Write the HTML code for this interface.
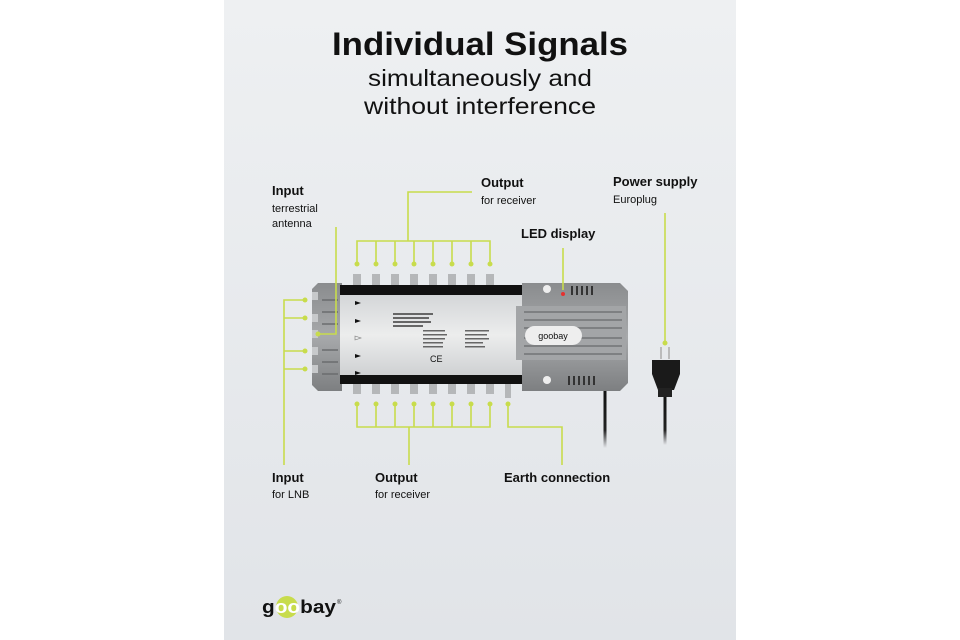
<!DOCTYPE html>
<html><head><meta charset="utf-8"><style>
html,body{margin:0;padding:0;background:#fff;width:960px;height:640px;overflow:hidden}
svg{display:block}
text{font-family:"Liberation Sans",sans-serif;fill:#111}
</style></head><body>
<svg width="960" height="640" viewBox="0 0 960 640" xmlns="http://www.w3.org/2000/svg">
<defs>
<linearGradient id="bg" x1="0" y1="0" x2="0" y2="1"><stop offset="0" stop-color="#eef0f2"/><stop offset="1" stop-color="#e1e4e8"/></linearGradient>
<linearGradient id="sil" x1="0" y1="0" x2="0" y2="1"><stop offset="0" stop-color="#d4d6d8"/><stop offset=".5" stop-color="#eceded"/><stop offset="1" stop-color="#cfd1d3"/></linearGradient>
<linearGradient id="gr" x1="0" y1="0" x2="0" y2="1"><stop offset="0" stop-color="#8a8c8e"/><stop offset=".5" stop-color="#a7a9ab"/><stop offset="1" stop-color="#7d7f81"/></linearGradient>
<linearGradient id="cab" x1="0" y1="0" x2="0" y2="1"><stop offset="0" stop-color="#111"/><stop offset=".7" stop-color="#222"/><stop offset="1" stop-color="#222" stop-opacity="0"/></linearGradient>
</defs>
<rect x="224" y="0" width="512" height="640" fill="url(#bg)"/>
<text x="480" y="55" text-anchor="middle" font-size="32" font-weight="bold" textLength="296" lengthAdjust="spacingAndGlyphs">Individual Signals</text>
<text x="480" y="86" text-anchor="middle" font-size="23" fill="#222" textLength="224" lengthAdjust="spacingAndGlyphs">simultaneously and</text>
<text x="480" y="114" text-anchor="middle" font-size="23" fill="#222" textLength="232" lengthAdjust="spacingAndGlyphs">without interference</text>

<g font-size="13" font-weight="bold">
<text x="272" y="195">Input</text><text x="481" y="187">Output</text><text x="613" y="186">Power supply</text>
<text x="521" y="238">LED display</text><text x="272" y="482">Input</text><text x="375" y="482">Output</text><text x="504" y="482">Earth connection</text>
</g>
<g font-size="11">
<text x="272" y="212">terrestrial</text><text x="272" y="227">antenna</text><text x="481" y="204">for receiver</text>
<text x="613" y="203">Europlug</text><text x="272" y="498">for LNB</text><text x="375" y="498">for receiver</text>
</g>

<!-- cables -->
<rect x="603.5" y="388" width="3" height="60" fill="url(#cab)"/>
<rect x="663.5" y="395" width="3" height="50" fill="url(#cab)"/>
<!-- plug -->
<rect x="660" y="347" width="2" height="12" fill="#bbb"/><rect x="668" y="347" width="2" height="12" fill="#bbb"/>
<path d="M652 360 h28 v14 l-6 16 h-16 l-6 -16z" fill="#1a1a1a"/>
<rect x="658" y="388" width="14" height="9" fill="#222"/>

<!-- device -->
<path d="M318 283 h24 v108 h-24 l-6 -6 v-96z" fill="url(#gr)"/>
<g fill="#c7c9cb">
<rect x="312" y="292" width="6" height="8"/><rect x="312" y="314" width="6" height="8"/><rect x="312" y="330" width="6" height="8"/><rect x="312" y="347" width="6" height="8"/><rect x="312" y="365" width="6" height="8"/>
</g>
<g stroke="#6a6c6e" stroke-width="1.5"><line x1="322" y1="300" x2="338" y2="300"/><line x1="322" y1="312" x2="338" y2="312"/><line x1="322" y1="324" x2="338" y2="324"/><line x1="322" y1="350" x2="338" y2="350"/><line x1="322" y1="362" x2="338" y2="362"/><line x1="322" y1="374" x2="338" y2="374"/></g>
<rect x="340" y="295" width="182" height="80" fill="url(#sil)"/>
<rect x="340" y="285" width="182" height="10" fill="#111"/>
<rect x="340" y="375" width="182" height="9" fill="#111"/>
<g fill="#111"><path d="M355 301 l6 2 l-6 2z"/><path d="M355 319 l6 2 l-6 2z"/><path d="M355 354 l6 2 l-6 2z"/><path d="M355 371 l6 2 l-6 2z"/></g>
<path d="M355 336 l6 2 l-6 2z" fill="none" stroke="#777" stroke-width=".6"/>
<g fill="#666"><rect x="393" y="313" width="40" height="2"/><rect x="393" y="317" width="36" height="2"/><rect x="393" y="321" width="38" height="2"/><rect x="393" y="325" width="30" height="2"/><rect x="423" y="330" width="22" height="1.5"/><rect x="423" y="334" width="24" height="1.5"/><rect x="423" y="338" width="22" height="1.5"/><rect x="423" y="342" width="20" height="1.5"/><rect x="423" y="346" width="20" height="1.5"/><rect x="465" y="330" width="24" height="1.5"/><rect x="465" y="334" width="22" height="1.5"/><rect x="465" y="338" width="24" height="1.5"/><rect x="465" y="342" width="18" height="1.5"/><rect x="465" y="346" width="20" height="1.5"/></g>
<text x="430" y="362" font-size="9" fill="#333">CE</text>
<g fill="#b5b7b9">
<rect x="353" y="274" width="8" height="11"/><rect x="372" y="274" width="8" height="11"/><rect x="391" y="274" width="8" height="11"/><rect x="410" y="274" width="8" height="11"/><rect x="429" y="274" width="8" height="11"/><rect x="448" y="274" width="8" height="11"/><rect x="467" y="274" width="8" height="11"/><rect x="486" y="274" width="8" height="11"/>
<rect x="353" y="384" width="8" height="10"/><rect x="372" y="384" width="8" height="10"/><rect x="391" y="384" width="8" height="10"/><rect x="410" y="384" width="8" height="10"/><rect x="429" y="384" width="8" height="10"/><rect x="448" y="384" width="8" height="10"/><rect x="467" y="384" width="8" height="10"/><rect x="486" y="384" width="8" height="10"/><rect x="505" y="384" width="6" height="14"/>
</g>
<!-- right housing -->
<path d="M522 283 h98 l8 8 v92 l-8 8 h-98z" fill="url(#gr)"/>
<path d="M516 306 h110 v54 h-110z" fill="#a3a5a7"/>
<g stroke="#7e8082" stroke-width="2"><line x1="524" y1="312" x2="622" y2="312"/><line x1="524" y1="320" x2="622" y2="320"/><line x1="524" y1="328" x2="622" y2="328"/><line x1="524" y1="338" x2="622" y2="338"/><line x1="524" y1="346" x2="622" y2="346"/><line x1="524" y1="354" x2="622" y2="354"/></g>
<rect x="525" y="326" width="57" height="19" rx="9.5" fill="#eee"/>
<text x="553" y="339" text-anchor="middle" font-size="9" fill="#555">goobay</text>
<circle cx="547" cy="289" r="4" fill="#eee"/><circle cx="547" cy="380" r="4" fill="#eee"/>
<g fill="#333"><rect x="571" y="286" width="2" height="9"/><rect x="576" y="286" width="2" height="9"/><rect x="581" y="286" width="2" height="9"/><rect x="586" y="286" width="2" height="9"/><rect x="591" y="286" width="2" height="9"/><rect x="568" y="376" width="2" height="9"/><rect x="573" y="376" width="2" height="9"/><rect x="578" y="376" width="2" height="9"/><rect x="583" y="376" width="2" height="9"/><rect x="588" y="376" width="2" height="9"/><rect x="593" y="376" width="2" height="9"/></g>
<circle cx="563" cy="294" r="2" fill="#e53030"/>

<!-- green connectors -->
<g stroke="#c8dc4c" stroke-width="1.6" fill="none">
<path d="M472 192 H408 V241"/><path d="M357 264 V241 H490 V264"/>
<path d="M376 241 V264 M395 241 V264 M414 241 V264 M433 241 V264 M452 241 V264 M471 241 V264"/>
<path d="M357 404 V427 H490 V404 M376 404 V427 M395 404 V427 M414 404 V427 M433 404 V427 M452 404 V427 M471 404 V427"/>
<path d="M409 427 V465"/>
<path d="M508 404 V427 H562 V465"/>
<path d="M284 465 V300 H305 M284 318 H305 M284 351 H305 M284 369 H305"/>
<path d="M336 227 V334 H318"/>
<path d="M563 248 V290"/>
<path d="M665 213 V343"/>
</g>
<g fill="#c8dc4c">
<circle cx="357" cy="264" r="2.5"/><circle cx="376" cy="264" r="2.5"/><circle cx="395" cy="264" r="2.5"/><circle cx="414" cy="264" r="2.5"/><circle cx="433" cy="264" r="2.5"/><circle cx="452" cy="264" r="2.5"/><circle cx="471" cy="264" r="2.5"/><circle cx="490" cy="264" r="2.5"/>
<circle cx="357" cy="404" r="2.5"/><circle cx="376" cy="404" r="2.5"/><circle cx="395" cy="404" r="2.5"/><circle cx="414" cy="404" r="2.5"/><circle cx="433" cy="404" r="2.5"/><circle cx="452" cy="404" r="2.5"/><circle cx="471" cy="404" r="2.5"/><circle cx="490" cy="404" r="2.5"/><circle cx="508" cy="404" r="2.5"/>
<circle cx="305" cy="300" r="2.5"/><circle cx="305" cy="318" r="2.5"/><circle cx="305" cy="351" r="2.5"/><circle cx="305" cy="369" r="2.5"/><circle cx="318" cy="334" r="2.5"/><circle cx="665" cy="343" r="2.5"/>
</g>

<!-- logo -->
<circle cx="287" cy="607" r="11" fill="#c8dc4c"/>
<text x="262" y="613" font-size="18" font-weight="bold" fill="#111" textLength="74" lengthAdjust="spacingAndGlyphs">g<tspan fill="#fff">oo</tspan>bay</text>
<text x="337" y="604" font-size="6" fill="#111">®</text>
</svg>
</body></html>
